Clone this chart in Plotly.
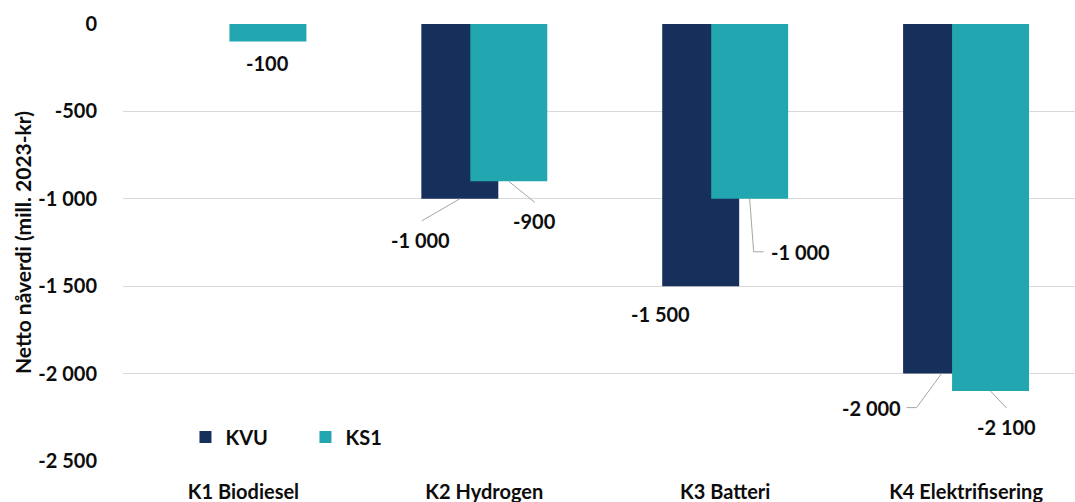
import plotly.graph_objects as go

# Data: net present value (mill. 2023-kr) per concept
categories = ["K1 Biodiesel", "K2 Hydrogen", "K3 Batteri", "K4 Elektrifisering"]
kvu_values = [None, -1000, -1500, -2000]
ks1_values = [-100, -900, -1000, -2100]
kvu_labels = [None, "-1 000", "-1 500", "-2 000"]
ks1_labels = ["-100", "-900", "-1 000", "-2 100"]
y_ticks = [0, -500, -1000, -1500, -2000, -2500]
y_ticktext = ["0", "-500", "-1 000", "-1 500", "-2 000", "-2 500"]

KVU_COLOR = "#172f5b"
KS1_COLOR = "#22a6af"
TEXT_COLOR = "#0d0d0d"
LEADER_COLOR = "#a6a6a6"
FONT = "Lato"

W, H = 1075, 502
M_L, M_R, M_T, M_B = 122.5, 0, 24, 41
CAT_PX = 241.0  # pixel width of one category slot

BAR_W = 77 / CAT_PX
KVU_OFF = -63 / CAT_PX
KS1_OFF = -14 / CAT_PX
KVU_CENTER = KVU_OFF + BAR_W / 2
KS1_CENTER = KS1_OFF + BAR_W / 2

x_idx = list(range(len(categories)))
x_max = (W - M_L - M_R) / CAT_PX - 0.5

fig = go.Figure()
fig.add_bar(x=x_idx, y=kvu_values, name="KVU", marker_color=KVU_COLOR,
            marker_line_width=0, width=BAR_W, offset=KVU_OFF)
fig.add_bar(x=x_idx, y=ks1_values, name="KS1", marker_color=KS1_COLOR,
            marker_line_width=0, width=BAR_W, offset=KS1_OFF)

# Label placement relative to the bar end: (label dx, label dy, leader polyline in px)
kvu_place = [
    None,
    (-39.5, 41, [(0, 0), (-38, 22)]),
    (-40, 28, None),
    (-70.5, 34, [(0, 0), (-25, 34), (-35, 34)]),
]
ks1_place = [
    (0, 22, None),
    (25.5, 40, [(0, 0), (26, 21)]),
    (50.5, 53, [(0, 0), (4, 53), (14, 53)]),
    (15.5, 36, [(0, 0), (16, 17)]),
]

annotations = []
shapes = []


def add_label(i, center, value, text, place):
    if place is None or value is None:
        return
    dx, dy, leader = place
    xa = i + center
    annotations.append(dict(
        x=xa, y=value, xref="x", yref="y", text=text, showarrow=False,
        xshift=dx, yshift=-dy, xanchor="center", yanchor="middle",
        font=dict(family=FONT, size=20, color=TEXT_COLOR, weight="bold"),
    ))
    if leader:
        for (ax, ay), (bx, by) in zip(leader[:-1], leader[1:]):
            shapes.append(dict(
                type="line", xref="x", yref="y",
                xsizemode="pixel", ysizemode="pixel",
                xanchor=xa, yanchor=value,
                x0=ax, x1=bx, y0=-ay, y1=-by,
                line=dict(color=LEADER_COLOR, width=1),
            ))


for i in x_idx:
    add_label(i, KVU_CENTER, kvu_values[i], kvu_labels[i], kvu_place[i])
    add_label(i, KS1_CENTER, ks1_values[i], ks1_labels[i], ks1_place[i])

plot_h = H - M_T - M_B

fig.update_layout(
    width=W, height=H,
    margin=dict(l=M_L, r=M_R, t=M_T, b=M_B, pad=0, autoexpand=False),
    paper_bgcolor="white", plot_bgcolor="white",
    barmode="overlay",
    font=dict(family=FONT, color=TEXT_COLOR, weight="bold"),
    annotations=annotations,
    shapes=shapes,
    legend=dict(
        orientation="h", x=(185 - M_L) / (W - M_L), y=(H - M_B - 437) / plot_h,
        xanchor="left", yanchor="middle",
        font=dict(family=FONT, size=20, color=TEXT_COLOR, weight="bold"),
        entrywidth=75, entrywidthmode="pixels",
        bgcolor="rgba(0,0,0,0)", traceorder="normal",
    ),
    showlegend=True,
)

fig.update_xaxes(
    range=[-0.5, x_max], tickvals=x_idx, ticktext=categories,
    showgrid=False, zeroline=False, showline=False, automargin=False,
    ticks="outside", ticklen=13, tickcolor="rgba(0,0,0,0)",
    tickfont=dict(family=FONT, size=20, color=TEXT_COLOR, weight="bold"),
)
fig.update_yaxes(
    range=[-2500, 0], tickvals=y_ticks, ticktext=y_ticktext,
    showgrid=True, gridcolor="#d9d9d9", gridwidth=1,
    zeroline=False, showline=False, automargin=False,
    ticks="outside", ticklen=21, tickcolor="rgba(0,0,0,0)",
    tickfont=dict(family=FONT, size=20, color=TEXT_COLOR, weight="bold"),
    title=dict(text="Netto nåverdi (mill. 2023-kr)", standoff=0,
               font=dict(family=FONT, size=21, color=TEXT_COLOR, weight="bold")),
)

fig.write_html("out.html")
